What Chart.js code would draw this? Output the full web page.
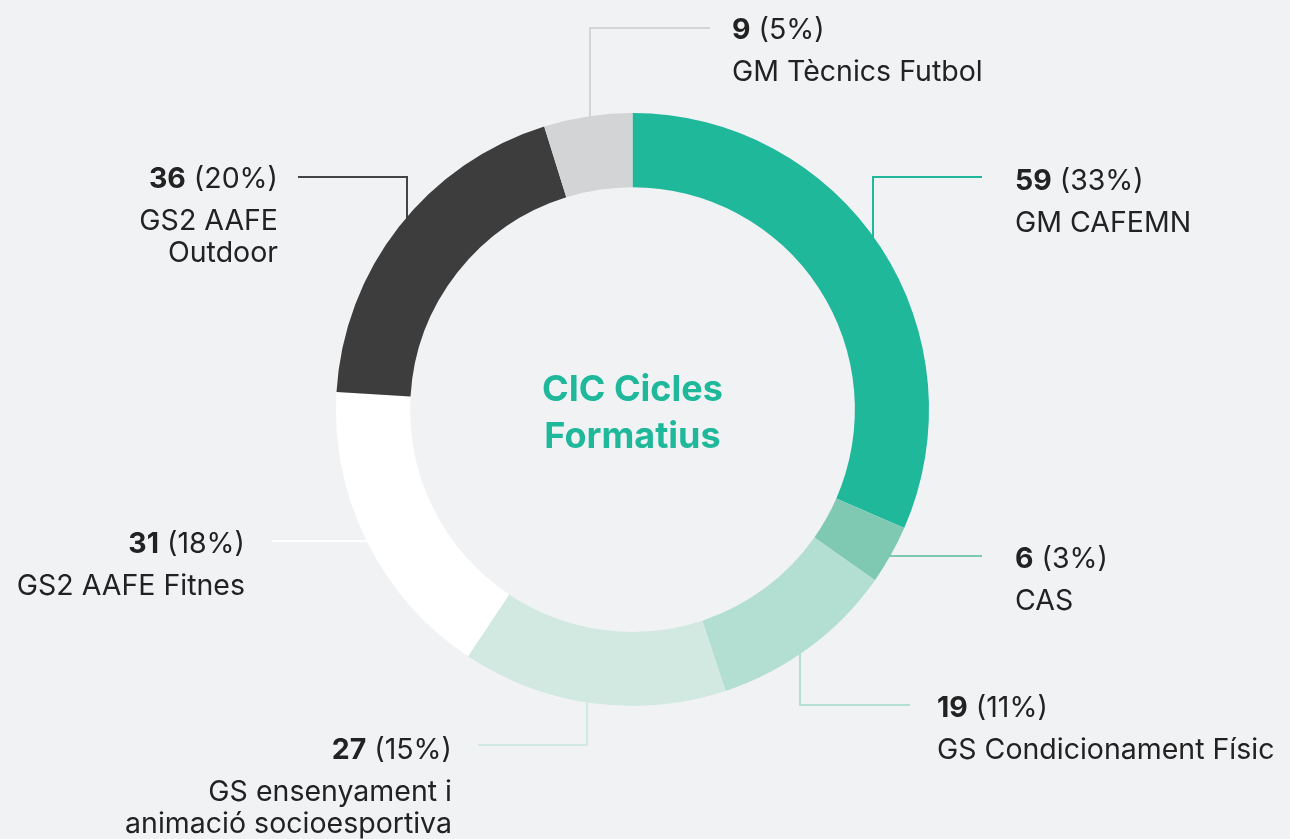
<!DOCTYPE html>
<html>
<head>
<meta charset="utf-8">
<script src="https://cdn.jsdelivr.net/npm/chart.js@4/dist/chart.umd.min.js"></script>
<style>
  html, body { margin: 0; padding: 0; background: #f1f2f4; }
  #wrap { width: 1290px; height: 839px; position: relative; }
</style>
</head>
<body>
<div id="wrap"><canvas id="myChart" width="1290" height="839"></canvas></div>
<script>
// data, clockwise from the top
var categories = [
    ["GM CAFEMN"],
    ["CAS"],
    ["GS Condicionament Físic"],
    ["GS ensenyament i", "animació socioesportiva"],
    ["GS2 AAFE Fitnes"],
    ["GS2 AAFE", "Outdoor"],
    ["GM Tècnics Futbol"]
];
var values = [59, 6, 19, 27, 31, 36, 9];
var percents = ["33%", "3%", "11%", "15%", "18%", "20%", "5%"];
var centerTitle = ["CIC Cicles", "Formatius"];

var colors = ['#1fb89a', '#7fc9b3', '#b2dfd2', '#d1e9e1', '#ffffff', '#3d3d3d', '#d3d4d6'];
var lineColors = ['#1fb89a', '#7fc9b3', '#b2dfd2', '#d1e9e1', '#ffffff', '#444444', '#d3d4d6'];

// leader lines: v = vertical from the ring to y, then horizontal to endX
//               h = horizontal from the ring at y to endX
var leaders = [
    { type: 'v', x: 873, y: 177, endX: 982, side: 'top' },
    { type: 'h', y: 556, endX: 982, side: 'right' },
    { type: 'v', x: 800, y: 705, endX: 910, side: 'bottom' },
    { type: 'v', x: 587, y: 745, endX: 478, side: 'bottom' },
    { type: 'h', y: 541, endX: 272, side: 'left' },
    { type: 'v', x: 407, y: 177, endX: 298, side: 'top' },
    { type: 'v', x: 590, y: 28, endX: 710, side: 'top' }
];
var labelPos = [
    { x: 1015, y: 178, align: 'left' },
    { x: 1015, y: 556, align: 'left' },
    { x: 937, y: 705, align: 'left' },
    { x: 452, y: 747, align: 'right' },
    { x: 245, y: 541, align: 'right' },
    { x: 278, y: 176, align: 'right' },
    { x: 732, y: 27, align: 'left' }
];

var FONT = 'Inter, "Noto Sans", sans-serif';
var SIZE = 28.5;

var leaderPlugin = {
    id: 'leaders',
    beforeDatasetsDraw: function(chart) {
        var ctx = chart.ctx;
        var arc = chart.getDatasetMeta(0).data[0];
        var cx = arc.x, cy = arc.y, r = arc.outerRadius - 4;
        ctx.save();
        ctx.lineWidth = 2;
        leaders.forEach(function(l, i) {
            var sx, sy;
            if (l.type === 'v') {
                var dy = Math.sqrt(Math.max(r * r - (l.x - cx) * (l.x - cx), 0));
                sx = l.x;
                sy = l.side === 'top' ? cy - dy : cy + dy;
            } else {
                var dx = Math.sqrt(Math.max(r * r - (l.y - cy) * (l.y - cy), 0));
                sy = l.y;
                sx = l.side === 'left' ? cx - dx : cx + dx;
            }
            ctx.strokeStyle = lineColors[i];
            ctx.beginPath();
            ctx.moveTo(sx, sy);
            if (l.type === 'v') {
                ctx.lineTo(l.x, l.y);
                ctx.lineTo(l.endX, l.y);
            } else {
                ctx.lineTo(l.endX, l.y);
            }
            ctx.stroke();
        });
        ctx.restore();
    },
    afterDraw: function(chart) {
        var ctx = chart.ctx;
        var arc = chart.getDatasetMeta(0).data[0];
        ctx.save();
        ctx.textBaseline = 'middle';
        ctx.fillStyle = '#222222';
        labelPos.forEach(function(p, i) {
            var y = p.y + 3;
            var boldTxt = String(values[i]);
            var regTxt = ' (' + percents[i] + ')';
            ctx.font = 'bold ' + SIZE + 'px ' + FONT;
            var wb = ctx.measureText(boldTxt).width;
            ctx.font = SIZE + 'px ' + FONT;
            var wr = ctx.measureText(regTxt).width;
            var x0 = p.align === 'left' ? p.x : p.x - wb - wr;
            ctx.textAlign = 'left';
            ctx.font = 'bold ' + SIZE + 'px ' + FONT;
            ctx.fillText(boldTxt, x0, y);
            ctx.font = SIZE + 'px ' + FONT;
            ctx.fillText(regTxt, x0 + wb, y);
            ctx.textAlign = p.align;
            categories[i].forEach(function(line, j) {
                ctx.fillText(line, p.x, y + 42 + j * 32);
            });
        });
        // centre title
        ctx.fillStyle = '#1fb89a';
        ctx.font = 'bold 36px ' + FONT;
        ctx.textAlign = 'center';
        ctx.fillText(centerTitle[0], arc.x, arc.y - 19);
        ctx.fillText(centerTitle[1], arc.x, arc.y + 28);
        ctx.restore();
    }
};

var ctx = document.getElementById("myChart").getContext('2d');
var myChart = new Chart(ctx, {
    type: 'doughnut',
    data: {
        labels: categories,
        datasets: [{
            data: values,
            backgroundColor: colors,
            borderWidth: 0,
            hoverOffset: 0
        }]
    },
    options: {
        responsive: false,
        animation: false,
        cutout: '75%',
        layout: { padding: { top: 113, bottom: 133, left: 336, right: 361 } },
        plugins: {
            legend: { display: false },
            tooltip: { enabled: false }
        }
    },
    plugins: [leaderPlugin]
});
</script>
</body>
</html>
